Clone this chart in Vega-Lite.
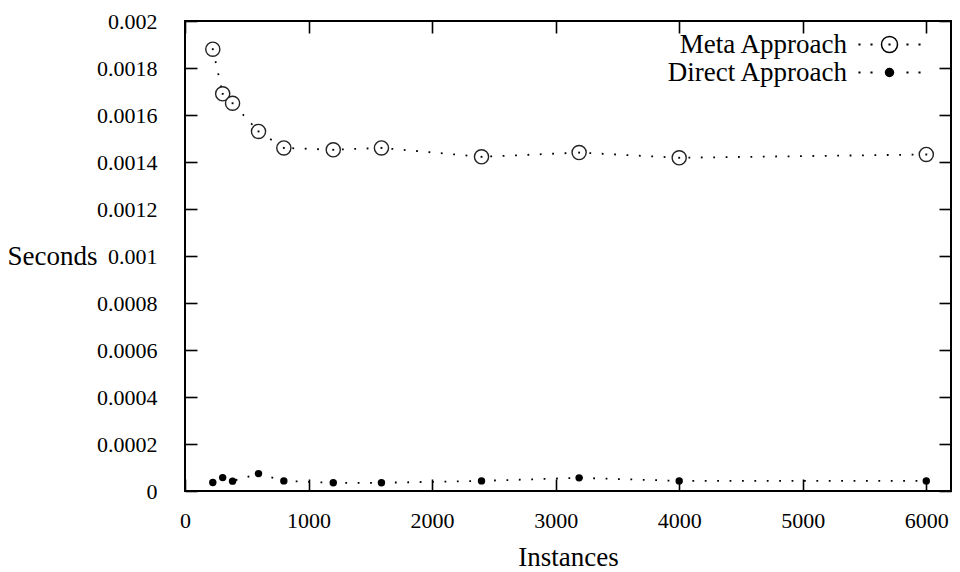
{
  "$schema": "https://vega.github.io/schema/vega-lite/v6.json",
  "width": 766,
  "height": 470,
  "autosize": {"type": "none"},
  "padding": {"left": 185, "top": 21, "right": 9, "bottom": 81},
  "background": "white",
  "data": {
    "values": [
      {"series": "Meta Approach", "instances": 225, "seconds": 0.00188},
      {"series": "Meta Approach", "instances": 305, "seconds": 0.00169},
      {"series": "Meta Approach", "instances": 385, "seconds": 0.00165},
      {"series": "Meta Approach", "instances": 595, "seconds": 0.00153},
      {"series": "Meta Approach", "instances": 800, "seconds": 0.00146},
      {"series": "Meta Approach", "instances": 1200, "seconds": 0.001452},
      {"series": "Meta Approach", "instances": 1590, "seconds": 0.00146},
      {"series": "Meta Approach", "instances": 2400, "seconds": 0.001422},
      {"series": "Meta Approach", "instances": 3190, "seconds": 0.00144},
      {"series": "Meta Approach", "instances": 4000, "seconds": 0.001418},
      {"series": "Meta Approach", "instances": 6000, "seconds": 0.001432},
      {"series": "Direct Approach", "instances": 225, "seconds": 0.000036},
      {"series": "Direct Approach", "instances": 305, "seconds": 0.000057},
      {"series": "Direct Approach", "instances": 385, "seconds": 0.000042},
      {"series": "Direct Approach", "instances": 595, "seconds": 0.000074},
      {"series": "Direct Approach", "instances": 800, "seconds": 0.000043},
      {"series": "Direct Approach", "instances": 1200, "seconds": 0.000035},
      {"series": "Direct Approach", "instances": 1590, "seconds": 0.000035},
      {"series": "Direct Approach", "instances": 2400, "seconds": 0.000043},
      {"series": "Direct Approach", "instances": 3190, "seconds": 0.000056},
      {"series": "Direct Approach", "instances": 4000, "seconds": 0.000043},
      {"series": "Direct Approach", "instances": 6000, "seconds": 0.000043}
    ]
  },
  "resolve": {"axis": {"x": "independent", "y": "independent"}},
  "layer": [
    {
      "mark": {"type": "line", "color": "black", "strokeWidth": 1.8, "strokeDash": [1.8, 10.6], "strokeCap": "butt"},
      "encoding": {
        "x": {"field": "instances", "type": "quantitative", "scale": {"domain": [0, 6200], "nice": false, "zero": false},
          "axis": {"orient": "bottom", "values": [0, 1000, 2000, 3000, 4000, 5000, 6000], "format": "d", "labelPadding": 48, "labelBaseline": "alphabetic", "labelFlush": false, "labelOverlap": false, "title": "Instances", "titleY": 74, "titleBaseline": "alphabetic"}},
        "y": {"field": "seconds", "type": "quantitative", "scale": {"domain": [0, 0.002], "nice": false, "zero": false},
          "axis": {"orient": "left", "values": [0, 0.0002, 0.0004, 0.0006, 0.0008, 0.001, 0.0012, 0.0014, 0.0016, 0.0018, 0.002], "format": ".4~f", "labelPadding": 40, "labelFlush": false, "labelOverlap": false, "title": "Seconds", "titleAngle": 0, "titleAlign": "right", "titleBaseline": "middle", "titleX": -88, "titleY": 235}},
        "detail": {"field": "series"}
      }
    },
    {
      "transform": [{"filter": "datum.series === 'Meta Approach'"}],
      "mark": {"type": "point", "shape": "circle", "size": 200, "filled": false, "fill": "white", "fillOpacity": 1, "stroke": "#222222", "strokeWidth": 1.4, "opacity": 1},
      "encoding": {
        "x": {"field": "instances", "type": "quantitative", "scale": {"domain": [0, 6200], "nice": false, "zero": false}, "axis": null},
        "y": {"field": "seconds", "type": "quantitative", "scale": {"domain": [0, 0.002], "nice": false, "zero": false}, "axis": null}
      }
    },
    {
      "transform": [{"filter": "datum.series === 'Meta Approach'"}],
      "mark": {"type": "point", "shape": "square", "size": 3.5, "filled": true, "color": "black", "opacity": 1},
      "encoding": {
        "x": {"field": "instances", "type": "quantitative", "scale": {"domain": [0, 6200], "nice": false, "zero": false}, "axis": null},
        "y": {"field": "seconds", "type": "quantitative", "scale": {"domain": [0, 0.002], "nice": false, "zero": false}, "axis": null}
      }
    },
    {
      "transform": [{"filter": "datum.series === 'Direct Approach'"}],
      "mark": {"type": "point", "shape": "circle", "size": 55, "filled": true, "color": "black", "opacity": 1},
      "encoding": {
        "x": {"field": "instances", "type": "quantitative", "scale": {"domain": [0, 6200], "nice": false, "zero": false}, "axis": null},
        "y": {"field": "seconds", "type": "quantitative", "scale": {"domain": [0, 0.002], "nice": false, "zero": false}, "axis": null}
      }
    },
    {
      "transform": [{"filter": "false"}],
      "mark": {"type": "point", "filled": true, "size": 144, "strokeWidth": 1.5, "opacity": 1},
      "encoding": {
        "x": {"field": "instances", "type": "quantitative", "scale": {"domain": [0, 6200], "nice": false, "zero": false},
          "axis": {"orient": "top", "values": [0, 1000, 2000, 3000, 4000, 5000, 6000], "labels": false, "title": null}},
        "y": {"field": "seconds", "type": "quantitative", "scale": {"domain": [0, 0.002], "nice": false, "zero": false},
          "axis": {"orient": "right", "values": [0, 0.0002, 0.0004, 0.0006, 0.0008, 0.001, 0.0012, 0.0014, 0.0016, 0.0018, 0.002], "labels": false, "title": null}},
        "shape": {"field": "series", "type": "nominal",
          "scale": {"domain": ["Meta Approach", "Direct Approach"], "range": [
            "M-1.333,0A1.333,1.333,0,1,1,1.333,0A1.333,1.333,0,1,1,-1.333,0Z M-0.05,-0.05h0.1v0.1h-0.1Z M-5.05,-0.05h0.1v0.1h-0.1Z M-3.05,-0.05h0.1v0.1h-0.1Z M2.95,-0.05h0.1v0.1h-0.1Z M4.95,-0.05h0.1v0.1h-0.1Z",
            "M-0.667,0A0.667,0.667,0,1,1,0.667,0A0.667,0.667,0,1,1,-0.667,0Z M-5.05,-0.05h0.1v0.1h-0.1Z M-3.05,-0.05h0.1v0.1h-0.1Z M2.95,-0.05h0.1v0.1h-0.1Z M4.95,-0.05h0.1v0.1h-0.1Z"
          ]},
          "legend": {"title": null, "orient": "none", "legendX": 691, "legendY": 10}},
        "fill": {"field": "series", "type": "nominal",
          "scale": {"domain": ["Meta Approach", "Direct Approach"], "range": ["white", "black"]},
          "legend": {"title": null, "orient": "none", "legendX": 691, "legendY": 10}},
        "stroke": {"field": "series", "type": "nominal",
          "scale": {"domain": ["Meta Approach", "Direct Approach"], "range": ["black", "black"]},
          "legend": {"title": null, "orient": "none", "legendX": 691, "legendY": 10}}
      }
    }
  ],
  "config": {
    "font": "Liberation Serif",
    "view": {"stroke": "black", "strokeWidth": 2},
    "axis": {
      "domain": false, "grid": false,
      "tickColor": "black", "tickWidth": 1.6, "tickSize": -12,
      "labelColor": "black", "labelFont": "Liberation Serif", "labelFontSize": 22,
      "titleColor": "black", "titleFont": "Liberation Serif", "titleFontSize": 27, "titleFontWeight": "normal"
    },
    "legend": {
      "labelFont": "Liberation Serif", "labelFontSize": 27, "labelColor": "black", "labelLimit": 0,
      "labelAlign": "right", "labelOffset": -56,
      "symbolSize": 144, "symbolStrokeColor": "black", "symbolStrokeWidth": 1.5,
      "rowPadding": 0, "padding": 0
    }
  }
}
